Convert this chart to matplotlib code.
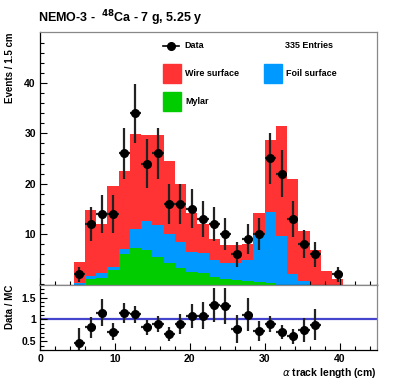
import numpy as np
import matplotlib.pyplot as plt
from matplotlib.patches import Rectangle
from matplotlib.lines import Line2D

plt.rcParams['font.family'] = ['Liberation Sans', 'DejaVu Sans']

# ---- data (bins of 1.5 cm from 4.5 to 40.5) ----
edges = np.arange(4.5, 40.51, 1.5)
mylar = [0.0, 1.1, 1.2, 2.9, 6.0, 7.2, 6.8, 5.4, 4.3, 3.2, 2.4, 2.2,
         1.4, 1.0, 0.8, 0.7, 0.5, 0.3, 0.0, 0.0, 0.0, 0.0, 0.0, 0.0]
foil = [0.3, 0.5, 1.1, 0.5, 1.0, 3.9, 5.8, 6.5, 5.8, 5.3, 4.1, 4.0,
        3.5, 3.3, 3.5, 4.2, 9.3, 14.0, 9.7, 2.1, 0.6, 0.0, 0.0, 0.0]
wire = [4.2, 13.2, 9.8, 16.2, 15.5, 18.8, 17.1, 17.7, 14.4, 11.5, 7.7, 5.9,
        4.2, 3.5, 3.6, 3.1, 4.3, 14.3, 21.7, 18.9, 10.0, 6.8, 2.7, 1.1]
counts = [2, 12, 14, 14, 26, 34, 24, 26, 16, 16, 15, 13,
          12, 10, 6, 9, 10, 25, 22, 13, 8, 6, 0, 2]
ratio = [0.47, 0.82, 1.15, 0.72, 1.15, 1.12, 0.82, 0.90, 0.66, 0.90, 1.07, 1.09,
         1.33, 1.31, 0.78, 1.11, 0.73, 0.89, 0.71, 0.62, 0.76, 0.88, np.nan, np.nan]

centers = 0.5 * (edges[1:] + edges[:-1])
half = 0.5 * (edges[1] - edges[0])
counts = np.array(counts, dtype=float)
ratio = np.array(ratio)

c_red = '#ff3333'
c_blue = '#0099ff'
c_green = '#00cc00'

fig = plt.figure(figsize=(3.99, 3.81), dpi=100)
W, H = 399.0, 381.0
ax = fig.add_axes([40 / W, 1 - 284.5 / H, 337 / W, 252 / H])
axr = fig.add_axes([40 / W, 1 - 350 / H, 337 / W, 65.5 / H])

# stacked histogram
s1 = np.array(mylar)
s2 = s1 + np.array(foil)
s3 = s2 + np.array(wire)
ax.stairs(s3, edges, fill=True, color=c_red, zorder=1)
ax.stairs(s2, edges, fill=True, color=c_blue, zorder=2)
ax.stairs(s1, edges, fill=True, color=c_green, zorder=3)

m = counts > 0
ax.errorbar(centers[m], counts[m], yerr=np.sqrt(counts[m]), xerr=half,
            fmt='o', color='black', ecolor='#222222', ms=5.5, elinewidth=1.6,
            capsize=0, zorder=5)

ax.set_xlim(0, 45)
ax.set_ylim(0, 50)
ax.set_yticks([10, 20, 30, 40])
ax.set_yticks(np.arange(0, 50, 2), minor=True)
ax.set_xticks([0, 10, 20, 30, 40])
ax.set_xticks(np.arange(0, 46, 2), minor=True)
ax.tick_params(axis='x', labelbottom=False)

# ratio panel
mr = ~np.isnan(ratio)
axr.axhline(1.0, color='#4444cc', lw=1.6, zorder=1)
axr.errorbar(centers[mr], ratio[mr], yerr=ratio[mr] / np.sqrt(counts[mr]),
             xerr=half, fmt='o', color='black', ecolor='#222222', ms=5.5,
             elinewidth=1.6, capsize=0, zorder=5)
axr.set_xlim(0, 45)
axr.set_ylim(0.3, 1.8)
axr.set_yticks([0.5, 1.0, 1.5])
axr.set_yticklabels(['0.5', '1', '1.5'])
axr.set_yticks(np.arange(0.3, 1.81, 0.1), minor=True)
axr.set_xticks([0, 10, 20, 30, 40])
axr.set_xticks(np.arange(0, 46, 2), minor=True)

for a in (ax, axr):
    a.tick_params(which='both', direction='in', top=False, right=False,
                  labelsize=7.5, pad=3)
    a.tick_params(which='major', length=5, width=0.8)
    a.tick_params(which='minor', length=3, width=0.8)
    for lab in a.get_xticklabels() + a.get_yticklabels():
        lab.set_fontweight('bold')
    a.spines['top'].set_color('#888888')
    a.spines['right'].set_color('#888888')
    for sp in a.spines.values():
        sp.set_linewidth(0.9)

ax.set_ylabel('Events / 1.5 cm', fontsize=7, fontweight='bold', loc='top')
axr.set_ylabel('Data / MC', fontsize=7, fontweight='bold', loc='top')
ax.yaxis.set_label_coords(-0.075, 1.0)
axr.yaxis.set_label_coords(-0.075, 1.0)
axr.set_xlabel(r'$\alpha$ track length (cm)', fontsize=7.5, fontweight='bold',
               loc='right', labelpad=1)

fig.text(38 / W, 1 - 18 / H, r'NEMO-3 -  $^{\mathbf{48}}$Ca - 7 g, 5.25 y',
         fontsize=9, fontweight='bold', va='center', ha='left')

# legend drawn by hand
def px(x, y):
    return x / W, 1 - y / H

fig.add_artist(Line2D([163 / W, 179 / W], [1 - 45.7 / H] * 2, color='black',
                      lw=1.2, marker='o', markevery=[], ms=5))
fig.add_artist(Line2D([171 / W], [1 - 45.7 / H], color='black',
                      marker='o', ms=5.5, lw=0))
fig.text(*px(184, 45.7), 'Data', fontsize=6.5, fontweight='bold', va='center')
fig.text(*px(285, 45.7), '335 Entries', fontsize=6.5, fontweight='bold',
         va='center')
for (x0, y0, col, lab) in [(163, 64, c_red, 'Wire surface'),
                           (264, 64, c_blue, 'Foil surface'),
                           (163, 92, c_green, 'Mylar')]:
    fig.add_artist(Rectangle((x0 / W, 1 - (y0 + 19) / H), 18 / W, 19 / H,
                             transform=fig.transFigure, color=col))
    fig.text(*px(x0 + 22, y0 + 9.5), lab, fontsize=6.5, fontweight='bold',
             va='center')

fig.savefig('out.png', dpi=100)
